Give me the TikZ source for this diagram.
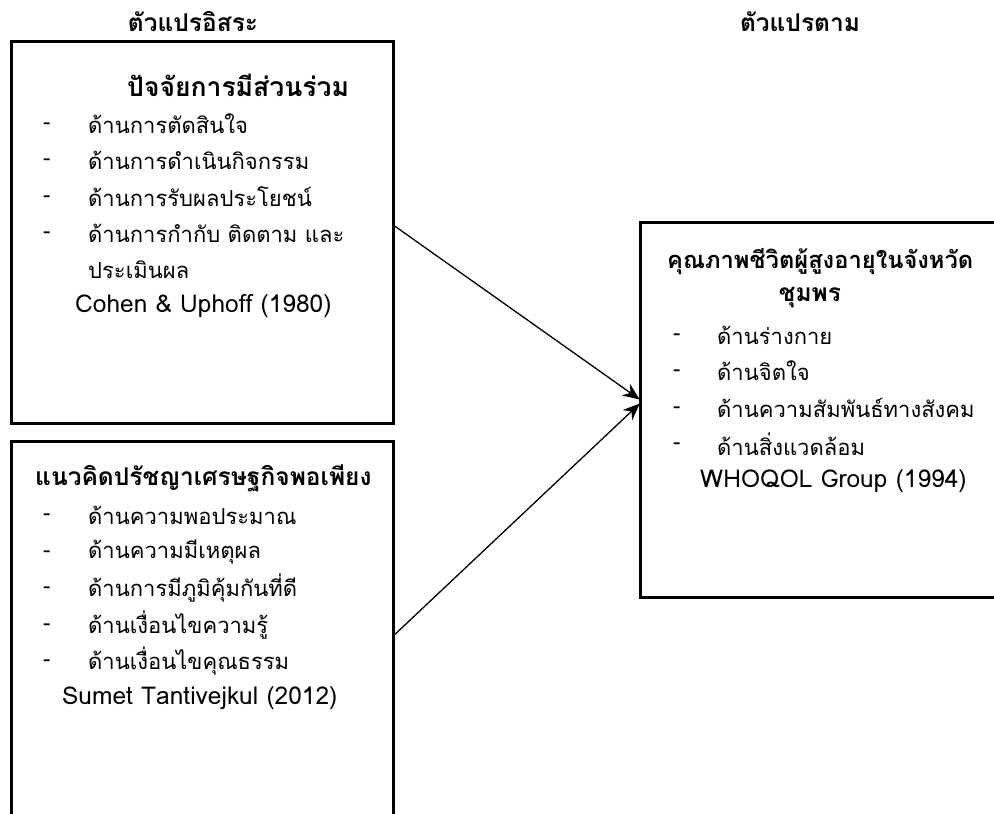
\documentclass[tikz,border=0pt]{standalone}
\usepackage{fontspec}
\setmainfont[Script=Thai]{Loma}
\usetikzlibrary{arrows.meta}
\tikzset{
  boxframe/.style={draw, line width=3pt, inner sep=0pt},
  head/.style={font=\fontsize{24.5}{28}\selectfont\bfseries, inner sep=0pt},
  item/.style={font=\fontsize{22}{26}\selectfont, inner sep=0pt, anchor=west},
  latin/.style={font=\fontsize{24.5}{28}\selectfont, inner sep=0pt, anchor=west},
  link/.style={line width=1.3pt, -{Stealth[length=17pt,width=14pt]}}
}
\begin{document}
\begin{tikzpicture}[x=1pt,y=-1pt]
\useasboundingbox (0,0) rectangle (994,814);
\clip (0,0) rectangle (994,814);
% boxes
\draw[boxframe] (11,41) rectangle (393,423);
\node[minimum width=382pt, minimum height=382pt, inner sep=0pt] (box1) at (202,232) {};
\draw[boxframe] (11,441) rectangle (393,860);
\node[minimum width=382pt, minimum height=419pt, inner sep=0pt] (box2) at (202,650.5) {};
\draw[boxframe] (640,222) rectangle (1040,597);
\node[minimum width=400pt, minimum height=375pt, inner sep=0pt] (box3) at (840,409.5) {};
% titles
\node[head] (t1) at (193,22) {ตัวแปรอิสระ};
\node[head] (t2) at (800,22) {ตัวแปรตาม};
% box 1
\node[head, anchor=west, font=\fontsize{26.5}{30}\selectfont\bfseries] (h1) at (127,85) {ปัจจัยการมีส่วนร่วม};
\node[item] (d11) at (43,126) {-};
\node[item] (i11) at (88,124) {ด้านการตัดสินใจ};
\node[item] (d12) at (43,162) {-};
\node[item] (i12) at (88,160) {ด้านการดำเนินกิจกรรม};
\node[item] (d13) at (43,199) {-};
\node[item] (i13) at (88,197) {ด้านการรับผลประโยชน์};
\node[item] (d14) at (43,235) {-};
\node[item] (i14) at (88,233) {ด้านการกำกับ ติดตาม และ};
\node[item] (i15) at (88,270) {ประเมินผล};
\node[latin] (r1) at (75,306) {Cohen \& Uphoff (1980)};
% box 2
\node[head, anchor=west] (h2) at (35,478) {แนวคิดปรัชญาเศรษฐกิจพอเพียง};
\node[item] (d21) at (43,517) {-};
\node[item] (i21) at (88,515) {ด้านความพอประมาณ};
\node[item] (d22) at (43,554) {-};
\node[item] (i22) at (88,552) {ด้านความมีเหตุผล};
\node[item] (d23) at (43,590) {-};
\node[item] (i23) at (88,588) {ด้านการมีภูมิคุ้มกันที่ดี};
\node[item] (d24) at (43,627) {-};
\node[item] (i24) at (88,625) {ด้านเงื่อนไขความรู้};
\node[item] (d25) at (43,663) {-};
\node[item] (i25) at (88,661) {ด้านเงื่อนไขคุณธรรม};
\node[latin] (r2) at (62,698) {Sumet Tantivejkul (2012)};
% box 3
\node[head, anchor=west, font=\fontsize{23.7}{28}\selectfont\bfseries] (h3) at (667,262) {คุณภาพชีวิตผู้สูงอายุในจังหวัด};
\node[head] (h3b) at (810,298) {ชุมพร};
\node[item] (d31) at (673,337) {-};
\node[item] (i31) at (717,335) {ด้านร่างกาย};
\node[item] (d32) at (673,373) {-};
\node[item] (i32) at (717,371) {ด้านจิตใจ};
\node[item] (d33) at (673,410) {-};
\node[item] (i33) at (717,408) {ด้านความสัมพันธ์ทางสังคม};
\node[item] (d34) at (673,446) {-};
\node[item] (i34) at (717,444) {ด้านสิ่งแวดล้อม};
\node[latin] (r3) at (700,481) {WHOQOL Group (1994)};
% connectors
\draw[link] ([yshift=7pt]box1.east) -- ([yshift=10pt]box3.west);
\draw[link] ([yshift=14.5pt]box2.east) -- ([yshift=6pt]box3.west);
\end{tikzpicture}
\end{document}
